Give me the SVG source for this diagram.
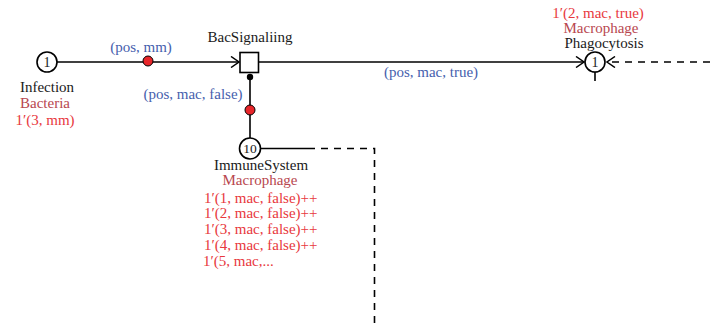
<svg xmlns="http://www.w3.org/2000/svg" width="710" height="329" viewBox="0 0 710 329" font-family="'Liberation Serif', 'DejaVu Serif', serif" font-size="15">
<style>
text{font-family:'Liberation Serif','DejaVu Serif',serif;font-size:15px}
.name{fill:#1a1a1a;text-anchor:middle}
.num{fill:#1a1a1a;text-anchor:middle;font-size:14px}
.cs{fill:#b8474f;text-anchor:middle}
.mk{fill:#e8383d}
.arc{fill:#4660ad;text-anchor:middle}
.ln{stroke:#000;stroke-width:1.6;fill:none}
.dash{stroke:#000;stroke-width:1.6;fill:none;stroke-dasharray:7,6}
.place{fill:#fff;stroke:#000;stroke-width:1.6}
.tok{fill:#e8262a;stroke:#000;stroke-width:1}
</style>
<defs>
<marker id="chev" markerWidth="10" markerHeight="12" refX="9" refY="6" orient="auto" markerUnits="userSpaceOnUse">
<path d="M1,0.5 L9,6 L1,11.5" fill="none" stroke="#000" stroke-width="1.5"/>
</marker>
</defs>
<g id="connectors">
<line class="ln" x1="57" y1="62" x2="239" y2="62" marker-end="url(#chev)"/>
<line class="ln" x1="258" y1="62" x2="584" y2="62" marker-end="url(#chev)"/>
<line class="ln" x1="250" y1="77" x2="250" y2="138"/>
<circle cx="250" cy="77" r="3.2" fill="#000"/>
<circle class="tok" cx="148" cy="61" r="5"/>
<circle class="tok" cx="250" cy="110" r="5"/>
<line class="ln" x1="260.5" y1="148.5" x2="315" y2="148.5"/>
<path class="dash" d="M321,148.5 H374.5 V329"/>
<line class="dash" x1="710" y1="62" x2="607" y2="62" marker-end="url(#chev)"/>
<line class="ln" x1="595" y1="72" x2="595" y2="81"/>
<text class="arc" x="141" y="52">(pos, mm)</text>
<text class="arc" x="193" y="99">(pos, mac, false)</text>
<text class="arc" x="431" y="77">(pos, mac, true)</text>
</g>
<g id="infection">
<circle class="place" cx="47" cy="62" r="10"/>
<text class="num" x="47" y="67">1</text>
<text class="name" x="47" y="92">Infection</text>
<text class="cs" x="45" y="108">Bacteria</text>
<text class="mk" x="45" y="125" text-anchor="middle">1′(3, mm)</text>
</g>
<g id="bacsignaling">
<rect x="240" y="52.5" width="18.5" height="20" fill="#fff" stroke="#000" stroke-width="1.6"/>
<text class="name" x="250" y="42">BacSignaliing</text>
</g>
<g id="immunesystem">
<circle class="place" cx="250" cy="148.5" r="10.5"/>
<text class="num" x="250" y="153" style="font-size:13.5px">10</text>
<text class="name" x="261" y="169.5">ImmuneSystem</text>
<text class="cs" x="260" y="184.5">Macrophage</text>
<text class="mk" x="204" y="203">1′(1, mac, false)++</text>
<text class="mk" x="204" y="218">1′(2, mac, false)++</text>
<text class="mk" x="204" y="234">1′(3, mac, false)++</text>
<text class="mk" x="204" y="250">1′(4, mac, false)++</text>
<text class="mk" x="203" y="266">1′(5, mac,...</text>
</g>
<g id="phagocytosis">
<circle class="place" cx="595" cy="62" r="10"/>
<text class="num" x="595" y="67">1</text>
<text class="mk" x="598" y="18" text-anchor="middle">1′(2, mac, true)</text>
<text class="cs" x="601" y="33">Macrophage</text>
<text class="name" x="604" y="48">Phagocytosis</text>
</g>
</svg>
